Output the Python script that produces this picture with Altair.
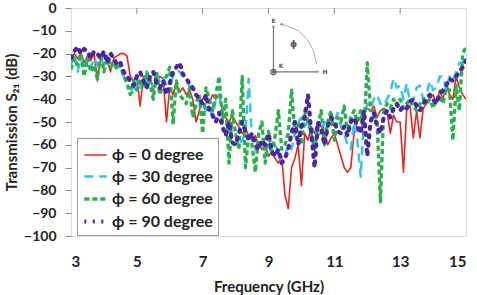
import altair as alt
import pandas as pd

freq = [round(3 + 0.1 * i, 1) for i in range(121)]

s0 = [-22, -20, -22, -20, -24, -21, -23, -20, -32, -22,
      -21, -23, -28, -22, -21, -20, -20, -21, -30, -32,
      -30, -43, -30, -33, -30, -36, -32, -30, -31, -50,
      -35, -38, -33, -37, -35, -38, -36, -40, -50, -45,
      -40, -38, -42, -38, -40, -38, -45, -48, -50, -47,
      -50, -52, -55, -53, -56, -58, -56, -60, -62, -60,
      -65, -63, -66, -68, -65, -82, -88, -70, -66, -60,
      -78, -55, -58, -52, -55, -50, -52, -55, -60, -57,
      -55, -60, -65, -70, -72, -70, -55, -50, -48, -45,
      -44, -45, -43, -48, -45, -44, -45, -55, -47, -50,
      -50, -72, -44, -43, -57, -45, -57, -44, -42, -40,
      -38, -42, -36, -40, -34, -38, -40, -30, -35, -38, -40]

s30 = [-25, -20, -28, -22, -27, -22, -26, -22, -25, -22,
       -25, -21, -24, -22, -25, -27, -30, -33, -35, -38,
       -32, -35, -30, -33, -31, -35, -30, -32, -30, -34,
       -33, -30, -27, -28, -30, -32, -34, -36, -38, -40,
       -42, -45, -43, -48, -40, -38, -46, -50, -56, -52,
       -55, -60, -58, -55, -31, -58, -62, -60, -58, -62,
       -60, -64, -60, -63, -68, -65, -60, -62, -55, -50,
       -48, -52, -50, -55, -52, -56, -54, -50, -52, -48,
       -50, -46, -52, -55, -60, -62, -50, -58, -74, -48,
       -42, -44, -40, -38, -42, -43, -40, -37, -31, -35,
       -34, -40, -33, -42, -40, -35, -34, -40, -38, -32,
       -36, -35, -30, -30, -36, -30, -32, -28, -24, -24, -22]

s60 = [-27, -22, -25, -20, -30, -22, -28, -25, -31, -20,
       -28, -22, -26, -24, -27, -25, -30, -33, -38, -32,
       -36, -31, -35, -28, -33, -40, -28, -38, -33, -30,
       -26, -51, -32, -38, -40, -42, -35, -48, -42, -38,
       -55, -35, -40, -45, -38, -30, -50, -40, -68, -45,
       -55, -62, -30, -70, -55, -60, -72, -55, -50, -68,
       -54, -64, -56, -45, -62, -60, -55, -36, -55, -50,
       -60, -45, -50, -55, -62, -52, -45, -60, -50, -45,
       -58, -48, -50, -43, -55, -48, -45, -50, -45, -55,
       -24, -45, -45, -50, -85, -45, -42, -44, -40, -43,
       -40, -44, -42, -40, -43, -45, -42, -40, -42, -40,
       -44, -40, -38, -42, -35, -36, -58, -34, -45, -20, -17]

s90 = [-22, -19, -17, -20, -18, -19, -22, -19, -20, -22,
       -19, -24, -20, -22, -25, -24, -28, -30, -32, -34,
       -30, -28, -32, -35, -30, -28, -33, -35, -32, -38,
       -33, -28, -26, -24, -29, -31, -33, -35, -38, -40,
       -42, -38, -45, -47, -50, -46, -52, -56, -50, -59,
       -60, -55, -50, -54, -58, -55, -60, -62, -58, -60,
       -55, -63, -65, -62, -68, -66, -62, -55, -50, -60,
       -52, -48, -38, -55, -70, -50, -53, -60, -52, -48,
       -50, -54, -55, -52, -56, -50, -48, -52, -55, -45,
       -65, -50, -46, -52, -55, -48, -45, -48, -44, -42,
       -45, -43, -44, -41, -40, -43, -45, -42, -40, -38,
       -40, -42, -38, -36, -34, -31, -32, -30, -28, -26, -23]

labels = ["ϕ = 0 degree", "ϕ = 30 degree", "ϕ = 60 degree", "ϕ = 90 degree"]
colors = ["#e8261e", "#33c3f2", "#27b14a", "#4f23a6"]
dashes = [[1, 0], [9, 6], [5, 3], [2, 6.5]]
widths = [1.6, 4.2, 2.4, 5]

x_label_values = [3, 5, 7, 9, 11, 13, 15]
top_tick_values = [5, 7, 9, 11, 13]
y_values = list(range(-100, 1, 10))

rows = []
for lab, ser in zip(labels, [s0, s30, s60, s90]):
    for f, v in zip(freq, ser):
        rows.append({"freq": f, "s21": v, "series": lab})
df = pd.DataFrame(rows)

FONT = "Lato"
xscale = alt.Scale(domain=[3, 15], nice=False, zero=False)
yscale = alt.Scale(domain=[-100, 0], nice=False)

xaxis = alt.Axis(values=x_label_values, title="Frequency (GHz)", ticks=False,
                 domain=False, grid=False, labelPadding=18, titlePadding=10,
                 labelFont=FONT, labelFontSize=15, labelFontWeight="bold",
                 labelColor="#222", titleFont=FONT, titleFontSize=15,
                 titleFontWeight="bold", titleColor="#222")
yaxis = alt.Axis(values=y_values, title="Transmission S₂₁ (dB)", grid=False,
                 domain=False, tickSize=6, tickColor="#888", labelPadding=9,
                 labelOverlap=False, titlePadding=4, labelFont=FONT,
                 labelFontSize=14, labelFontWeight="bold", labelColor="#222",
                 titleFont=FONT, titleFontSize=15, titleFontWeight="bold",
                 titleColor="#222")


def X(field):
    return alt.X(field, scale=xscale, axis=xaxis)


def Y(field):
    return alt.Y(field, scale=yscale, axis=yaxis)


color_enc = alt.Color("series:N", scale=alt.Scale(domain=labels, range=colors), sort=labels,
                      legend=alt.Legend(title=None, orient="none", legendX=6, legendY=130,
                                        symbolType="stroke", symbolSize=500,
                                        symbolStrokeWidth=3, labelFont=FONT,
                                        labelFontSize=16, labelFontWeight="bold",
                                        labelColor="#222", strokeColor="#999",
                                        fillColor="white", padding=5, rowPadding=1,
                                        labelOffset=3, labelLimit=200))
dash_enc = alt.StrokeDash("series:N", scale=alt.Scale(domain=labels, range=dashes),
                          sort=labels, legend=None)
width_enc = alt.StrokeWidth("series:O", scale=alt.Scale(domain=labels, range=widths),
                            sort=labels, legend=None)

base = alt.Chart(df).encode(x=X("freq:Q"), y=Y("s21:Q"), color=color_enc,
                            strokeDash=dash_enc, strokeWidth=width_enc)
lines_butt = base.mark_line(strokeCap="butt", strokeJoin="round", clip=True).transform_filter(
    alt.FieldOneOfPredicate(field="series", oneOf=labels[:3]))
lines_dot = base.mark_line(strokeCap="round", strokeJoin="round", clip=True).transform_filter(
    alt.FieldOneOfPredicate(field="series", oneOf=labels[3:]))

top_ticks = alt.Chart(pd.DataFrame({"t": top_tick_values})).mark_rule(
    color="#888", strokeWidth=1).encode(
    x=X("t:Q"), y=alt.value(0), y2=alt.value(6))

# inset diagram (data coordinates)
axis_v = pd.DataFrame({"f": [9.15], "y1": [-28], "y2": [-8.5]})
axis_h = pd.DataFrame({"y": [-28], "f1": [9.15], "f2": [10.45]})
arc_f = [10.46, 10.37, 10.19, 9.91, 9.58, 9.40]
arc_db = [-24.5, -18.8, -14.0, -10.0, -7.9, -7.1]
lbl_f = [9.15, 10.72, 9.38, 9.76, 9.15]
lbl_db = [-5.5, -28, -25.3, -15.7, -28]
lbl_t = ["E", "H", "K", "ϕ", "⊗"]
lbl_s = [6, 6, 6, 9, 10]

vline = alt.Chart(axis_v).mark_rule(color="#777", strokeWidth=1.2).encode(
    x=X("f:Q"), y=Y("y1:Q"), y2="y2:Q")
hline = alt.Chart(axis_h).mark_rule(color="#777", strokeWidth=1.2).encode(
    y=Y("y:Q"), x=X("f1:Q"), x2="f2:Q")
arc = alt.Chart(pd.DataFrame({"f": arc_f, "y": arc_db, "o": list(range(len(arc_f)))})).mark_line(
    color="#aaa", strokeWidth=1).encode(
    x=X("f:Q"), y=Y("y:Q"), order="o:Q")
heads = alt.Chart(pd.DataFrame({"f": [9.15, 10.5, 9.38], "y": [-8.0, -28, -7.1],
                                "s": ["triangle-up", "triangle-right", "triangle-left"]})).mark_point(
    filled=True, size=12, color="#666", fill="#666").encode(
    x=X("f:Q"), y=Y("y:Q"), shape=alt.Shape("s:N", scale=None))
texts = alt.Chart(pd.DataFrame({"f": lbl_f, "y": lbl_db, "t": lbl_t, "s": lbl_s})).mark_text(
    font="DejaVu Sans", fontWeight="bold", fill="#555", color="#555").encode(
    x=X("f:Q"), y=Y("y:Q"), text="t:N", size=alt.Size("s:Q", scale=None))

chart = alt.layer(lines_butt, lines_dot, top_ticks, vline, hline, arc, heads, texts).properties(
    width=395, height=228,
    padding={"left": 71, "top": 8, "right": 11, "bottom": 59},
    autosize=alt.AutoSizeParams(type="none"),
).configure_view(stroke="#888", strokeWidth=1.2).configure(background="white")

chart.save("out.html", embed_options={"renderer": "svg", "actions": False})
